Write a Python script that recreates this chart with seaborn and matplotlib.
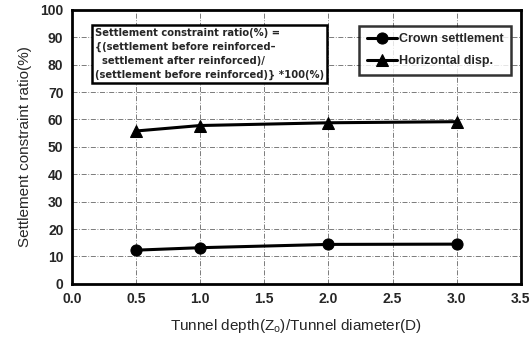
import matplotlib
matplotlib.use("Agg")
import matplotlib.pyplot as plt
import seaborn as sns
import pandas as pd

ratio = [0.5, 1.0, 2.0, 3.0]
crown = [12.3, 13.2, 14.4, 14.5]
horizontal = [55.8, 57.8, 58.8, 59.2]
series_names = ["Crown settlement", "Horizontal disp."]
xticks = [0.0, 0.5, 1.0, 1.5, 2.0, 2.5, 3.0, 3.5]
yticks = list(range(0, 101, 10))

df = pd.DataFrame({
    "x": ratio * 2,
    "y": crown + horizontal,
    "series": [series_names[0]] * len(ratio) + [series_names[1]] * len(ratio),
})

sns.set_style("white")
plt.rcParams['font.family'] = ['Liberation Sans', 'DejaVu Sans']
plt.rcParams['mathtext.fontset'] = 'custom'
plt.rcParams['mathtext.rm'] = 'Liberation Sans'

fig = plt.figure(figsize=(5.32, 3.42), dpi=100)
ax = fig.add_axes([0.135, 0.170, 0.844, 0.801])

sns.lineplot(data=df, x="x", y="y", hue="series", style="series",
             markers={series_names[0]: "o", series_names[1]: "^"},
             dashes=False, palette=["black", "black"], markersize=8,
             linewidth=2.2, markeredgecolor="black", ax=ax, legend=True)

ax.set_xlim(0, 3.5)
ax.set_ylim(0, 100)
ax.set_xticks(xticks)
ax.set_xticklabels([f"{v:.1f}" for v in xticks], fontsize=10, fontweight="bold")
ax.set_yticks(yticks)
ax.set_yticklabels([str(v) for v in yticks], fontsize=10, fontweight="bold")
ax.grid(True, color="#666666", linestyle=(0, (6, 2, 1, 2)), linewidth=0.6)
for s in ax.spines.values():
    s.set_linewidth(2.0)
    s.set_color("black")
ax.tick_params(axis="both", direction="in", length=3, width=0.8, pad=6)

ax.set_xlabel("Tunnel depth(Z$_\\mathrm{o}$)/Tunnel diameter(D)", fontsize=11, labelpad=8)
ax.set_ylabel("Settlement constraint ratio(%)", fontsize=11, labelpad=6)

leg = ax.legend(loc="upper right", bbox_to_anchor=(0.993, 0.965),
                frameon=True, fancybox=False, edgecolor="black",
                handlelength=2.4, borderpad=0.6, labelspacing=0.8,
                handletextpad=0.2, prop={"weight": "bold", "size": 9})
leg.get_frame().set_linewidth(1.8)
leg.set_title(None)

ax.text(0.052, 0.935,
        "Settlement constraint ratio(%) =\n{(settlement before reinforced\u2013\n  settlement after reinforced)/\n(settlement before reinforced)} *100(%)",
        transform=ax.transAxes, fontsize=7.2, fontweight="bold", va="top", ha="left",
        family=["DejaVu Sans"], linespacing=1.5,
        bbox=dict(boxstyle="square,pad=0.3", facecolor="white", edgecolor="black", linewidth=1.8))

fig.savefig("out.png", dpi=100)
